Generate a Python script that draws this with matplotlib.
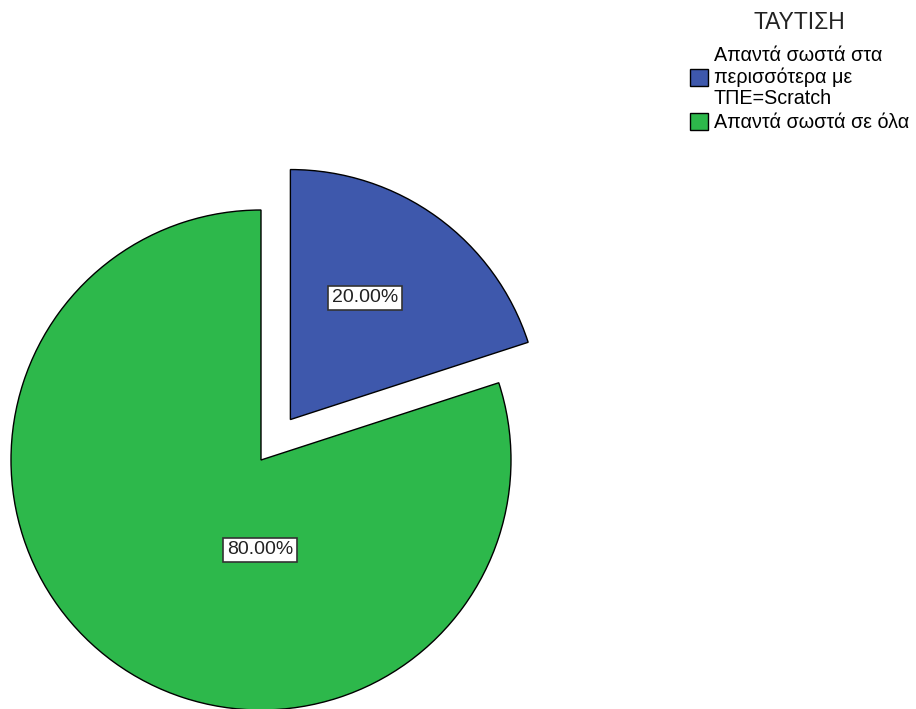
import matplotlib
matplotlib.use("Agg")
import matplotlib.pyplot as plt

plt.rcParams["font.family"] = ["Liberation Sans", "DejaVu Sans"]

# Data
categories = ["Απαντά σωστά στα\nπερισσότερα με\nΤΠΕ=Scratch", "Απαντά σωστά σε όλα"]
shares = [20.0, 80.0]
legend_title = "ΤΑΥΤΙΣΗ"

COLORS = ["#3E58AC", "#2DB84B"]
EXPLODE = [0.2, 0.0]

W, H = 916, 709
CX, CY, R = 261, 460, 250  # pie centre and radius in pixels

fig = plt.figure(figsize=(W / 100, H / 100), dpi=100)
ax = fig.add_axes([0, 0, 1, 1])
ax.axis("off")

wedges, _ = ax.pie(
    shares,
    colors=COLORS,
    explode=EXPLODE,
    startangle=90,
    counterclock=False,
    radius=1.0,
    wedgeprops=dict(edgecolor="black", linewidth=1.0),
)
ax.set_aspect("auto")
ax.set_xlim(-CX / R, (W - CX) / R)
ax.set_ylim(-(H - CY) / R, CY / R)

# percentage labels (SPSS-style boxed)
label_pos = [(0.416, 0.648), (-0.004, -0.36)]
for (x, y), v in zip(label_pos, shares):
    ax.text(x, y, f"{v:.2f}%", ha="center", va="center", fontsize=14,
            color="#222222",
            bbox=dict(boxstyle="square,pad=0.18", facecolor="white",
                      edgecolor="#333333", linewidth=1.2))

leg = fig.legend(
    wedges, categories,
    title=legend_title,
    loc="upper left",
    bbox_to_anchor=(682 / W, 1 - 3 / H),
    borderaxespad=0.0,
    frameon=False,
    fontsize=14.2,
    title_fontsize=16.5,
    handlelength=0.9,
    handleheight=0.9,
    handletextpad=0.3,
    labelspacing=0.3,
)
for t in leg.get_texts():
    t.set_linespacing(1.12)
leg.get_title().set_color("#222222")
leg._legend_box.sep = 9

fig.savefig("out.png", dpi=100)
